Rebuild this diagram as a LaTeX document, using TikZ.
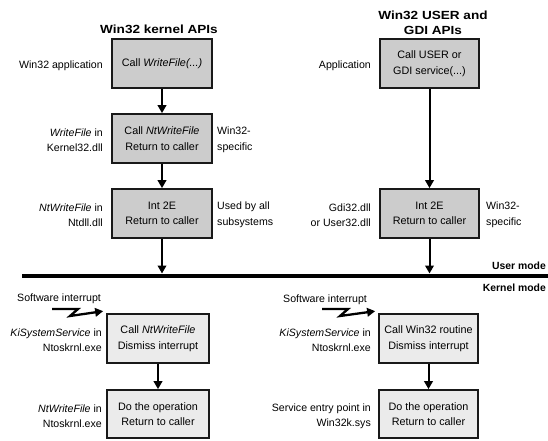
\documentclass[tikz,border=0pt]{standalone}
\usepackage{fontspec}
\setmainfont{Liberation Sans}
\newfontfamily\ttlfont[FakeStretch=1.15]{Liberation Sans}
\usetikzlibrary{arrows.meta}
\tikzset{
  ubox/.style={draw=black!90, line width=1.7pt, fill=black!20, minimum width=100pt, minimum height=49pt, align=center, font=\fontsize{10.8}{15.5}\selectfont, inner sep=0pt},
  kbox/.style={ubox, fill=black!8},
  lbl/.style={align=right, anchor=east, font=\fontsize{10.6}{15.5}\selectfont, inner sep=0pt},
  rbl/.style={align=left, anchor=west, font=\fontsize{10.6}{15.5}\selectfont, inner sep=0pt},
  ttl/.style={align=center, font=\ttlfont\bfseries\fontsize{11.8}{15}\selectfont, inner sep=0pt},
  mode/.style={anchor=east, font=\bfseries\fontsize{10.4}{12}\selectfont, inner sep=0pt},
  conn/.style={line width=2pt, -{Triangle[length=8pt,width=8.5pt]}},
  zig/.style={line width=2.3pt, -{Triangle[length=8pt,width=8.5pt]}},
}
\begin{document}
\begin{tikzpicture}[x=1pt,y=-1pt]
\useasboundingbox (0,0) rectangle (548,440);
% titles
\node[ttl] (t1) at (159,29) {Win32 kernel APIs};
\node[ttl] (t2) at (433,23) {Win32 USER and\\GDI APIs};
% left user boxes
\node[ubox] (a1) at (162,63.5) {Call \textit{WriteFile(...)}};
\node[ubox] (a2) at (162,138.5) {Call \textit{NtWriteFile}\\Return to caller};
\node[ubox] (a3) at (162,213.5) {Int 2E\\Return to caller};
% right user boxes
\node[ubox, minimum width=99pt] (b1) at (429.5,63.5) {Call USER or\\GDI service(...)};
\node[ubox, minimum width=99pt] (b3) at (429.5,213.5) {Int 2E\\Return to caller};
% kernel boxes
\node[kbox, minimum width=102pt] (c1) at (158,338.5) {Call \textit{NtWriteFile}\\Dismiss interrupt};
\node[kbox, minimum width=102pt, minimum height=48pt] (c2) at (158,414) {Do the operation\\Return to caller};
\node[kbox, minimum width=99pt] (d1) at (428.5,338.5) {Call Win32 routine\\Dismiss interrupt};
\node[kbox, minimum width=99pt, minimum height=48pt] (d2) at (428.5,414) {Do the operation\\Return to caller};
% side labels
\node[lbl] (la1) at (103,66) {Win32 application};
\node[lbl] (la2) at (103,140) {\textit{WriteFile} in\\Kernel32.dll};
\node[rbl] (ra2) at (217,140) {Win32-\\specific};
\node[lbl] (la3) at (103,215) {\textit{NtWriteFile} in\\Ntdll.dll};
\node[rbl] (ra3) at (217,215) {Used by all\\subsystems};
\node[lbl] (lb1) at (371,66) {Application};
\node[lbl] (lb3) at (371,215) {Gdi32.dll\\or User32.dll};
\node[rbl] (rb3) at (486,215) {Win32-\\specific};
\node[lbl] (lc1) at (102,340) {\textit{KiSystemService} in\\Ntoskrnl.exe};
\node[lbl] (lc2) at (102,416) {\textit{NtWriteFile} in\\Ntoskrnl.exe};
\node[lbl] (ld1) at (371,340) {\textit{KiSystemService} in\\Ntoskrnl.exe};
\node[lbl] (ld2) at (371,416) {Service entry point in\\Win32k.sys};
% mode line
\coordinate (mL) at (22,276);
\coordinate (mR) at (548,276);
\draw[line width=4.5pt] (mL) -- (mR);
\node[mode] (um) at (546,266) {User mode};
\node[mode] (km) at (546,288) {Kernel mode};
% connectors
\coordinate (aL) at (162,273.5);
\coordinate (bL) at (429.5,273.5);
\draw[conn] (a1) -- (a2);
\draw[conn] (a2) -- (a3);
\draw[conn] (a3) -- (aL);
\draw[conn] (b1) -- (b3);
\draw[conn] (b3) -- (bL);
\draw[conn] (c1) -- (c2);
\draw[conn] (d1) -- (d2);
% software interrupts
\node[anchor=west, font=\fontsize{10.6}{12}\selectfont, inner sep=0pt] (s1) at (17,299) {Software interrupt};
\node[anchor=west, font=\fontsize{10.6}{12}\selectfont, inner sep=0pt] (s2) at (283,300) {Software interrupt};
\coordinate (z1) at (52,309);
\coordinate (z2) at (322,309);
\draw[zig] (z1) -- ++(26,0) -- ++(-8,7) -- ([xshift=-3pt,yshift=2pt]c1.north west);
\draw[zig] (z2) -- ++(26,0) -- ++(-8,7) -- ([xshift=-3pt,yshift=2pt]d1.north west);
\end{tikzpicture}
\end{document}
